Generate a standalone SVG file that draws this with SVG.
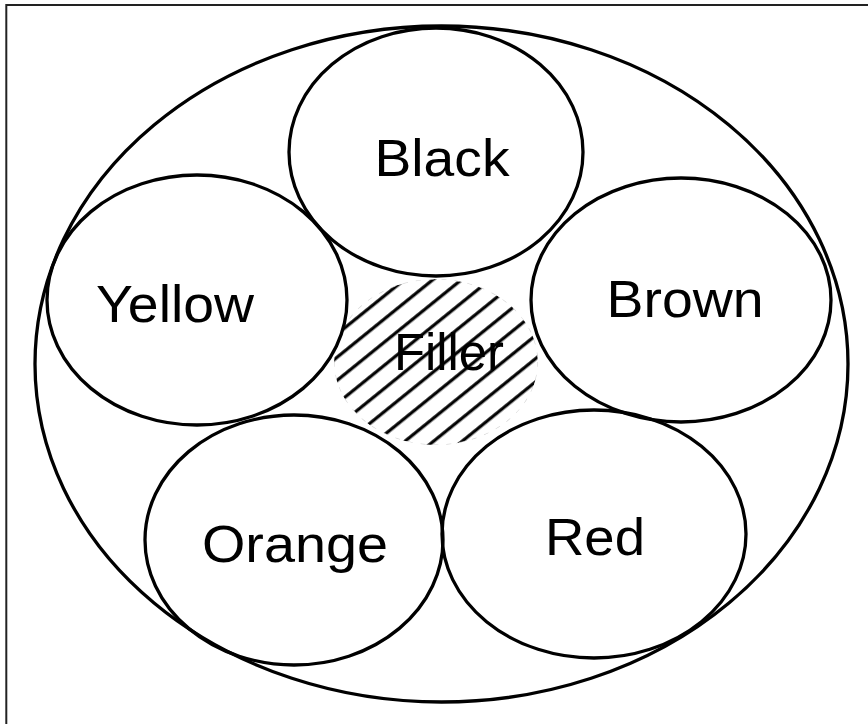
<svg xmlns="http://www.w3.org/2000/svg" width="868" height="724" viewBox="0 0 868 724">
  <style>
    .ring { fill: none; stroke: #000; stroke-width: 3.3; }
    .lbl { font-family: "Liberation Sans", Arial, sans-serif; font-size: 52px; fill: #000; text-anchor: middle; }
  </style>
  <defs>
    <pattern id="hatch" patternUnits="userSpaceOnUse" width="18" height="18" patternTransform="rotate(-39)">
      <rect x="-1" y="2.2" width="20" height="3.2" fill="#000"/>
    </pattern>
    <mask id="fillerMask" maskUnits="userSpaceOnUse" x="0" y="0" width="868" height="724">
      <ellipse cx="436" cy="362" rx="102" ry="83" fill="#fff"/>
      <ellipse cx="436" cy="152" rx="147" ry="124" fill="#000"/>
      <ellipse cx="197" cy="300" rx="150" ry="125" fill="#000"/>
      <ellipse cx="681" cy="300" rx="150" ry="122" fill="#000"/>
      <ellipse cx="294" cy="540" rx="149" ry="125" fill="#000"/>
      <ellipse cx="594" cy="534" rx="152" ry="124" fill="#000"/>
    </mask>
  </defs>
  <rect width="868" height="724" fill="#fff"/>
  <rect id="frame" x="6.3" y="5" width="900" height="800" fill="none" stroke="#222" stroke-width="2"/>

  <g id="cable">
    <ellipse class="ring" cx="441.5" cy="364" rx="406.5" ry="338"/>
  </g>

  <g id="filler">
    <ellipse cx="436" cy="362" rx="102" ry="83" fill="url(#hatch)" mask="url(#fillerMask)"/>
    <ellipse cx="436" cy="362" rx="102" ry="83" fill="none" stroke="#d4d4d4" stroke-width="1.2" stroke-dasharray="5 8" mask="url(#fillerMask)"/>
    <text class="lbl" x="449" y="370" textLength="110" lengthAdjust="spacingAndGlyphs">Filler</text>
  </g>

  <g id="black">
    <ellipse class="ring" cx="436" cy="152" rx="147" ry="124"/>
    <text class="lbl" x="442" y="176" textLength="135" lengthAdjust="spacingAndGlyphs">Black</text>
  </g>
  <g id="yellow">
    <ellipse class="ring" cx="197" cy="300" rx="150" ry="125"/>
    <text class="lbl" x="175" y="322" textLength="158" lengthAdjust="spacingAndGlyphs">Yellow</text>
  </g>
  <g id="brown">
    <ellipse class="ring" cx="681" cy="300" rx="150" ry="122"/>
    <text class="lbl" x="685" y="317" textLength="157" lengthAdjust="spacingAndGlyphs">Brown</text>
  </g>
  <g id="orange">
    <ellipse class="ring" cx="294" cy="540" rx="149" ry="125"/>
    <text class="lbl" x="295" y="562" textLength="186" lengthAdjust="spacingAndGlyphs">Orange</text>
  </g>
  <g id="red">
    <ellipse class="ring" cx="594" cy="534" rx="152" ry="124"/>
    <text class="lbl" x="595" y="555" textLength="100" lengthAdjust="spacingAndGlyphs">Red</text>
  </g>
  <g id="connectors"/>
</svg>
